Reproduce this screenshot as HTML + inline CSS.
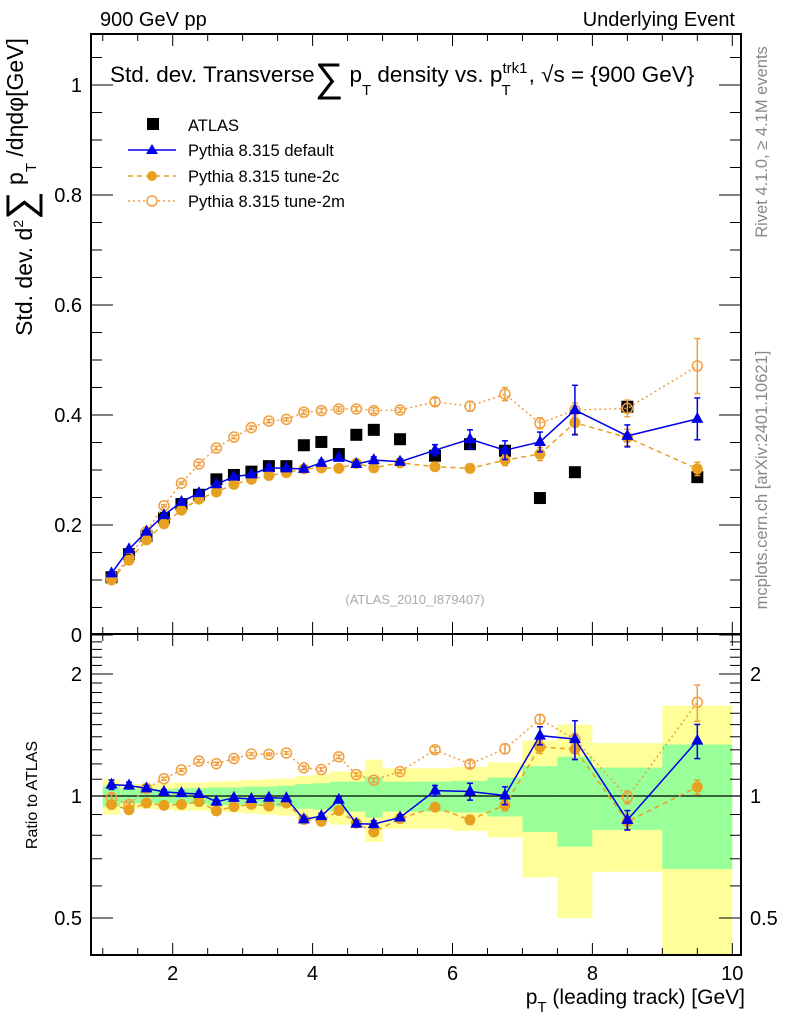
<!DOCTYPE html>
<html><head><meta charset="utf-8"><style>
body{margin:0;background:#fff}
svg{display:block;font-family:"Liberation Sans",sans-serif}
</style></head><body>
<svg id="c" width="786" height="1024" viewBox="0 0 786 1024" xmlns="http://www.w3.org/2000/svg">
<g id="bands"></g>
<g id="axes"></g>
<g id="series"></g>
<text x="100" y="26" font-size="20">900 GeV pp</text>
<text x="735" y="26" font-size="20" text-anchor="end">Underlying Event</text>
<text x="110" y="82" font-size="22.5">Std. dev. Transverse<tspan font-size="40" dy="9">∑</tspan><tspan dy="-9"> p</tspan><tspan font-size="15" dy="13">T</tspan><tspan dy="-13"> density vs. p</tspan><tspan font-size="15" dy="-9">trk1</tspan><tspan font-size="15" dx="-26" dy="22">T</tspan><tspan dx="18" dy="-13">, √s = {900 GeV}</tspan></text>
<g>
<rect x="147" y="118" width="12" height="12" fill="#000"/>
<text x="188" y="131" font-size="16.5">ATLAS</text>
<line x1="128" y1="150" x2="176" y2="150" stroke="#0000e6" stroke-width="1.5"/>
<polygon points="152,144 158,154 146,154" fill="#0000e6"/>
<text x="188" y="156" font-size="16.5">Pythia 8.315 default</text>
<line x1="128" y1="176" x2="176" y2="176" stroke="#e8a020" stroke-width="1.5" stroke-dasharray="5,4"/>
<circle cx="152" cy="176" r="5" fill="#e8a020"/>
<text x="188" y="182" font-size="16.5">Pythia 8.315 tune-2c</text>
<line x1="128" y1="201" x2="176" y2="201" stroke="#f0a040" stroke-width="1.5" stroke-dasharray="2,3"/>
<circle cx="152" cy="201" r="5" fill="#fff" stroke="#f0a040" stroke-width="1.5"/>
<text x="188" y="207" font-size="16.5">Pythia 8.315 tune-2m</text>
</g>
<text x="415" y="604" font-size="13" fill="#aaa" text-anchor="middle">(ATLAS_2010_I879407)</text>
<text transform="translate(32,187) rotate(-90)" font-size="23" text-anchor="middle">Std. dev. d<tspan font-size="14" dy="-9">2</tspan><tspan font-size="40" dy="11">∑</tspan><tspan dy="-11"> p</tspan><tspan font-size="15" dy="13">T</tspan><tspan dy="-13"> /dηdφ[GeV]</tspan></text>
<text transform="translate(37,795) rotate(-90)" font-size="16" text-anchor="middle">Ratio to ATLAS</text>
<text x="745" y="1004" font-size="21" text-anchor="end">p<tspan font-size="15" dy="8">T</tspan><tspan dy="-8"> (leading track) [GeV]</tspan></text>
<text transform="translate(767,142) rotate(-90)" font-size="16.5" fill="#888" text-anchor="middle">Rivet 4.1.0, ≥ 4.1M events</text>
<text transform="translate(767,480) rotate(-90)" font-size="16.5" fill="#888" text-anchor="middle">mcplots.cern.ch [arXiv:2401.10621]</text>
</svg>
<script>
const binLo=[1,1.25,1.5,1.75,2,2.25,2.5,2.75,3,3.25,3.5,3.75,4,4.25,4.5,4.75,5,5.5,6,6.5,7,7.5,8,9];
const binHi=[1.25,1.5,1.75,2,2.25,2.5,2.75,3,3.25,3.5,3.75,4,4.25,4.5,4.75,5,5.5,6,6.5,7,7.5,8,9,10];
const atlas=[0.105,0.147,0.18,0.213,0.238,0.255,0.283,0.291,0.297,0.307,0.307,0.345,0.351,0.329,0.364,0.373,0.356,0.326,0.347,0.335,0.249,0.296,0.415,0.287];
const atlasTot=[0.10,0.07,0.07,0.075,0.08,0.08,0.085,0.09,0.095,0.10,0.105,0.12,0.13,0.15,0.15,0.23,0.17,0.17,0.18,0.21,0.37,0.5,0.35,0.67];
const atlasStat=[0.06,0.04,0.04,0.04,0.045,0.045,0.05,0.05,0.055,0.055,0.06,0.07,0.075,0.085,0.085,0.115,0.085,0.085,0.09,0.11,0.185,0.25,0.175,0.34];
const pDef=[0.112,0.156,0.188,0.218,0.242,0.258,0.274,0.288,0.292,0.304,0.303,0.302,0.313,0.322,0.311,0.318,0.315,0.336,0.356,0.336,0.351,0.409,0.362,0.393];
const pDefErr=[0.003,0.003,0.003,0.003,0.003,0.003,0.003,0.003,0.003,0.004,0.004,0.004,0.005,0.005,0.005,0.006,0.005,0.01,0.017,0.017,0.018,0.045,0.02,0.038];
const p2c=[0.100,0.136,0.173,0.202,0.227,0.247,0.260,0.274,0.283,0.290,0.295,0.302,0.304,0.303,0.312,0.304,0.313,0.306,0.303,0.318,0.329,0.386,0.359,0.302];
const p2cErr=[0.002,0.002,0.002,0.002,0.002,0.002,0.002,0.003,0.003,0.003,0.003,0.003,0.004,0.004,0.004,0.005,0.004,0.006,0.008,0.01,0.012,0.02,0.015,0.012];
const p2m=[0.104,0.14,0.188,0.235,0.276,0.311,0.340,0.360,0.377,0.389,0.392,0.405,0.408,0.411,0.411,0.408,0.409,0.424,0.416,0.438,0.385,0.409,0.412,0.489];
const p2mErr=[0.002,0.002,0.002,0.002,0.002,0.003,0.003,0.003,0.003,0.003,0.003,0.004,0.004,0.004,0.004,0.005,0.004,0.007,0.009,0.012,0.01,0.013,0.015,0.05];
const xTicks=[2,4,6,8,10];
const yTicks=[0,0.2,0.4,0.6,0.8,1];
const yTickLabels=["0","0.2","0.4","0.6","0.8","1"];
const rTicks=[0.5,1,2];
const rTickLabels=["0.5","1","2"];

const NS="http://www.w3.org/2000/svg";
const L=91,R=741,T=34,M=634,B=955;
const X=v=>32.8+69.95*v;
const Ym=v=>635-550*v;
const Yr=r=>796-405.3*Math.log10(r);
function mk(tag,attrs,parent){const e=document.createElementNS(NS,tag);for(const k in attrs)e.setAttribute(k,attrs[k]);parent.appendChild(e);return e;}
const svg=document.getElementById('c');
const defs=mk('defs',{},svg);
const cp1=mk('clipPath',{id:'cm'},defs);mk('rect',{x:L,y:T,width:R-L,height:M-T},cp1);
const cp2=mk('clipPath',{id:'cr'},defs);mk('rect',{x:L,y:M,width:R-L,height:B-M},cp2);
const bands=document.getElementById('bands');bands.setAttribute('clip-path','url(#cr)');
const axes=document.getElementById('axes');
const series=document.getElementById('series');
for(let i=0;i<binLo.length;i++){
 const y=mk('rect',{x:X(binLo[i]),y:Yr(1+atlasTot[i]),width:X(binHi[i])-X(binLo[i]),height:Yr(Math.max(1-atlasTot[i],0.05))-Yr(1+atlasTot[i]),fill:'#ffff99'},bands);
 
 
 const g=mk('rect',{x:X(binLo[i]),y:Yr(1+atlasStat[i]),width:X(binHi[i])-X(binLo[i]),height:Yr(1-atlasStat[i])-Yr(1+atlasStat[i]),fill:'#99ff99'},bands);
 
 
}
mk('line',{x1:L,y1:796,x2:R,y2:796,stroke:'#000','stroke-width':1.2},axes);
mk('rect',{x:L,y:T,width:R-L,height:M-T,fill:'none',stroke:'#000','stroke-width':2},axes);
mk('rect',{x:L,y:M,width:R-L,height:B-M,fill:'none',stroke:'#000','stroke-width':2},axes);
for(let v=1;v<=10.01;v+=0.5){
 const maj=Math.abs(v-Math.round(v/2)*2)<0.01;const len=maj?12:7;const x=X(v);
 mk('line',{x1:x,y1:T,x2:x,y2:T+len,stroke:'#000'},axes);
 mk('line',{x1:x,y1:M,x2:x,y2:M-len,stroke:'#000'},axes);
 mk('line',{x1:x,y1:M,x2:x,y2:M+len,stroke:'#000'},axes);
 mk('line',{x1:x,y1:B,x2:x,y2:B-len,stroke:'#000'},axes);
}
xTicks.forEach(v=>{const t=mk('text',{x:X(v),y:980,'font-size':20,'text-anchor':'middle'},axes);t.textContent=String(v);
 
 });
for(let k=0;k<=21;k++){const v=k*0.05;const maj=k%4==0;const len=maj?22:11;const y=Ym(v);
 mk('line',{x1:L,y1:y,x2:L+len,y2:y,stroke:'#000'},axes);
 mk('line',{x1:R,y1:y,x2:R-len,y2:y,stroke:'#000'},axes);}
yTicks.forEach((v,i)=>{const t=mk('text',{x:82,y:Ym(v)+7,'font-size':20,'text-anchor':'end'},axes);t.textContent=yTickLabels[i];
 
 });
const rMinor=[0.5,0.6,0.7,0.8,0.9,1,1.1,1.2,1.3,1.4,1.5,1.6,1.7,1.8,1.9,2,2.1,2.2,2.3,2.4];
rMinor.forEach(r=>{const maj=rTicks.includes(r);const len=maj?22:11;const y=Yr(r);
 mk('line',{x1:L,y1:y,x2:L+len,y2:y,stroke:'#000'},axes);
 mk('line',{x1:R,y1:y,x2:R-len,y2:y,stroke:'#000'},axes);});
rTicks.forEach((r,i)=>{[[82,'end'],[750,'start']].forEach(([x,a])=>{const t=mk('text',{x:x,y:Yr(r)+7,'font-size':20,'text-anchor':a},axes);t.textContent=rTickLabels[i];
 
 });});
const cx=binLo.map((l,i)=>(l+binHi[i])/2);
function drawSeries(vals,errs,color,dash,marker,name,ratio){
 const Yf=ratio?(v,i)=>Yr(v/atlas[i]):(v,i)=>Ym(v);
 const g=mk('g',{'clip-path':ratio?'url(#cr)':'url(#cm)'},series);
 
 
 if(color){const pts=vals.map((v,i)=>X(cx[i])+','+Yf(v,i)).join(' ');
  mk('polyline',{points:pts,fill:'none',stroke:color,'stroke-width':1.5,'stroke-dasharray':dash},g);}
 vals.forEach((v,i)=>{const x=X(cx[i]),y=Yf(v,i);
  if(errs){const y1=Yf(v+errs[i],i),y2=Yf(v-errs[i],i);
   mk('line',{x1:x,y1:y1,x2:x,y2:y2,stroke:color,'stroke-width':1.5},g);
   mk('line',{x1:x-3,y1:y1,x2:x+3,y2:y1,stroke:color,'stroke-width':1.5},g);
   mk('line',{x1:x-3,y1:y2,x2:x+3,y2:y2,stroke:color,'stroke-width':1.5},g);}
  let m;
  if(marker=='sq')m=mk('rect',{x:x-6,y:y-6,width:12,height:12,fill:'#000'},g);
  else if(marker=='tri')m=mk('polygon',{points:`${x},${y-7} ${x+6},${y+4} ${x-6},${y+4}`,fill:color},g);
  else if(marker=='dot')m=mk('circle',{cx:x,cy:y,r:5.5,fill:color},g);
  else m=mk('circle',{cx:x,cy:y,r:5,fill:'none',stroke:color,'stroke-width':1.5},g);
  
  
 });
}
drawSeries(atlas,null,null,null,'sq','atlas',false);
drawSeries(p2m,p2mErr,'#f0a040','2,3','open','tune-2m',false);
drawSeries(p2c,p2cErr,'#e8a020','5,4','dot','tune-2c',false);
drawSeries(pDef,pDefErr,'#0000e6','','tri','default',false);
drawSeries(p2m,p2mErr,'#f0a040','2,3','open','tune-2m',true);
drawSeries(p2c,p2cErr,'#e8a020','5,4','dot','tune-2c',true);
drawSeries(pDef,pDefErr,'#0000e6','','tri','default',true);
</script>
</body></html>
